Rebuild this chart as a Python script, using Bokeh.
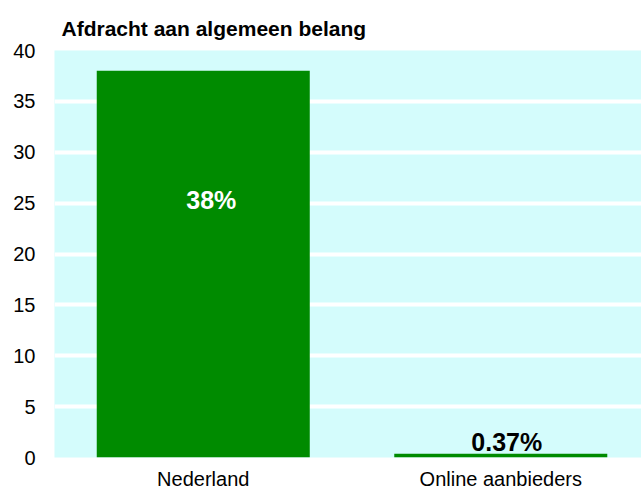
from bokeh.plotting import figure
from bokeh.models import ColumnDataSource, FixedTicker, Range1d
from bokeh.core.properties import value
from bokeh.embed import file_html
from bokeh.resources import INLINE

title_text = "Afdracht aan algemeen belang"
categories = ["Nederland", "Online aanbieders"]
values = [38, 0.37]
y_ticks = [0, 5, 10, 15, 20, 25, 30, 35, 40]

FONT = "Liberation Sans"
BAR = "#008b00"
BG = "#d4fcfc"

xs = [i + 0.5 for i in range(len(categories))]
labels = [f"{v:g}%" for v in values]
inside = [v > 5 for v in values]
label_y = [v * 0.665 if ins else v for v, ins in zip(values, inside)]

p = figure(width=641, height=492, output_backend="svg", toolbar_location=None,
           x_range=Range1d(0, 1.973), y_range=Range1d(0, 40),
           min_border_left=54, min_border_right=0, min_border_top=50,
           min_border_bottom=33, background_fill_color=BG,
           border_fill_color="white", outline_line_color=None)

p.title.text = title_text
p.title.text_font = FONT
p.title.text_font_size = "21px"
p.title.text_font_style = "bold"
p.title.text_color = "black"
p.title.align = "left"
p.title.offset = 7
p.title.standoff = 21

src = ColumnDataSource(dict(x=xs, top=values))
p.vbar(x="x", top="top", width=0.716, bottom=0, source=src,
       fill_color=BAR, line_color=None)

in_src = ColumnDataSource(dict(
    x=[x for x, i in zip(xs, inside) if i],
    y=[y for y, i in zip(label_y, inside) if i],
    t=[t for t, i in zip(labels, inside) if i]))
out_src = ColumnDataSource(dict(
    x=[x for x, i in zip(xs, inside) if not i],
    y=[y for y, i in zip(label_y, inside) if not i],
    t=[t for t, i in zip(labels, inside) if not i]))

p.text(x="x", y="y", text="t", source=in_src, text_color="white",
       text_font=value(FONT), text_font_size="25px", text_font_style="bold",
       text_align="center", text_baseline="middle", x_offset=8)
p.text(x="x", y="y", text="t", source=out_src, text_color="black",
       text_font=value(FONT), text_font_size="25px", text_font_style="bold",
       text_align="center", text_baseline="bottom", x_offset=6, y_offset=2)

# axes
p.yaxis.ticker = FixedTicker(ticks=y_ticks)
p.xaxis.ticker = FixedTicker(ticks=xs)
p.xaxis.major_label_overrides = {x: c for x, c in zip(xs, categories)}
for ax in (p.xaxis, p.yaxis):
    ax.axis_line_color = None
    ax.major_tick_line_color = None
    ax.minor_tick_line_color = None
    ax.major_tick_out = 0
    ax.major_tick_in = 0
    ax.major_label_text_font = FONT
    ax.major_label_text_font_size = "20px"
    ax.major_label_text_color = "black"
p.yaxis.major_label_standoff = 19
p.xaxis.major_label_standoff = 10

p.xgrid.grid_line_color = None
p.ygrid.ticker = FixedTicker(ticks=y_ticks[1:])
p.ygrid.grid_line_color = "white"
p.ygrid.grid_line_width = 4

open("out.html", "w").write(file_html(p, INLINE))
